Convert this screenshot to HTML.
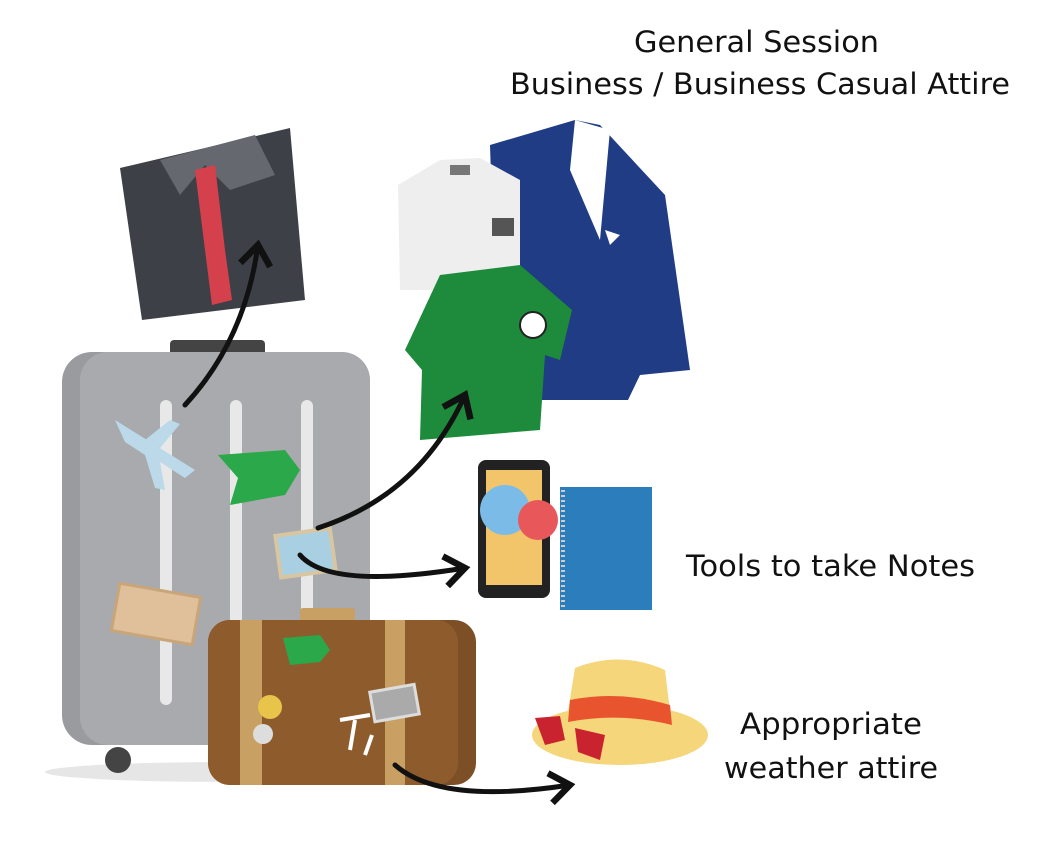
<!DOCTYPE html>
<html><head><meta charset="utf-8"><style>
html,body{margin:0;padding:0;background:#fff}
svg{display:block}
text{font-family:"DejaVu Sans","Liberation Sans",sans-serif;fill:#111}
</style></head><body>
<svg width="1042" height="841" viewBox="0 0 1042 841" xmlns="http://www.w3.org/2000/svg">
<defs><marker id="ah" markerWidth="8" markerHeight="8" refX="5" refY="4" orient="auto" markerUnits="strokeWidth"><path d="M1,1 L5,4 L1,7" fill="none" stroke="#111" stroke-width="1.3"/></marker></defs>
<text x="634" y="52" font-size="29" textLength="245" lengthAdjust="spacingAndGlyphs">General Session</text>
<text x="510" y="94" font-size="29" textLength="500" lengthAdjust="spacingAndGlyphs">Business / Business Casual Attire</text>
<text x="686" y="576" font-size="29" textLength="289" lengthAdjust="spacingAndGlyphs">Tools to take Notes</text>
<text x="740" y="734" font-size="29" textLength="182" lengthAdjust="spacingAndGlyphs">Appropriate</text>
<text x="724" y="778" font-size="29" textLength="214" lengthAdjust="spacingAndGlyphs">weather attire</text>

<ellipse cx="230" cy="772" rx="185" ry="10" fill="#e6e6e6"/>
<rect x="170" y="340" width="95" height="18" rx="4" fill="#444"/>
<rect x="62" y="352" width="308" height="393" rx="30" fill="#9a9b9e"/>
<rect x="80" y="352" width="290" height="393" rx="28" fill="#a9aaad"/>
<rect x="160" y="400" width="12" height="305" rx="6" fill="#e8e8e8"/>
<rect x="230" y="400" width="12" height="305" rx="6" fill="#e8e8e8"/>
<rect x="301" y="400" width="12" height="305" rx="6" fill="#e8e8e8"/>
<circle cx="118" cy="760" r="13" fill="#444"/>
<path d="M115 420 L195 470 L185 478 L160 462 L165 490 L155 488 L145 455 L125 442 Z" fill="#bcd9ea"/>
<path d="M145 440 L170 420 L180 424 L160 448 Z" fill="#bcd9ea"/>
<path d="M218 455 L285 450 L300 470 L285 495 L230 505 L238 478 Z" fill="#2aa84a"/>
<rect x="278" y="532" width="55" height="42" fill="#a9cfe2" stroke="#d8c6a2" stroke-width="4" transform="rotate(-8 305 553)"/>
<rect x="115" y="590" width="82" height="48" fill="#dfc09a" stroke="#c9a57a" stroke-width="3" transform="rotate(10 156 614)"/>

<path d="M120 168 L290 128 L305 300 L142 320 Z" fill="#3e4048"/>
<path d="M160 160 L255 135 L275 175 L230 190 L205 165 L180 195 Z" fill="#666870"/>
<path d="M195 170 L215 165 L225 250 L232 300 L212 305 L205 250 Z" fill="#d4404b"/>

<path d="M490 145 L575 120 L600 125 L665 195 L690 370 L640 375 L628 400 L535 400 L495 300 Z" fill="#1f3c84"/>
<path d="M575 120 L610 130 L600 240 L570 170 Z" fill="#fff"/>
<path d="M605 230 L620 235 L610 245 Z" fill="#fff"/>
<path d="M398 185 L440 160 L480 158 L520 180 L520 290 L400 290 Z" fill="#eeeeef"/>
<rect x="450" y="165" width="20" height="10" fill="#777"/>
<rect x="492" y="218" width="22" height="18" fill="#555"/>
<path d="M440 275 L520 265 L572 310 L560 360 L545 355 L540 430 L420 440 L422 370 L405 350 Z" fill="#1e8a3b"/>
<circle cx="533" cy="325" r="13" fill="#fff" stroke="#222" stroke-width="2"/>

<rect x="478" y="460" width="72" height="138" rx="8" fill="#222"/>
<rect x="486" y="470" width="56" height="115" fill="#f2c56a"/>
<circle cx="505" cy="510" r="25" fill="#7bbbe8"/>
<circle cx="538" cy="520" r="20" fill="#e8585a"/>
<rect x="560" y="487" width="92" height="123" fill="#2b7dbc"/>
<line x1="563" y1="490" x2="563" y2="608" stroke="#ccc" stroke-width="4" stroke-dasharray="2 3"/>

<rect x="300" y="608" width="55" height="18" rx="3" fill="#c9a064"/>
<rect x="208" y="620" width="268" height="165" rx="22" fill="#7c4f26"/>
<rect x="208" y="620" width="250" height="165" rx="22" fill="#8e5c2c"/>
<rect x="240" y="620" width="22" height="165" fill="#c9a064"/>
<rect x="385" y="620" width="20" height="165" fill="#c9a064"/>
<path d="M283 638 L320 635 L330 650 L320 662 L290 665 Z" fill="#2aa84a"/>
<circle cx="270" cy="707" r="12" fill="#e8c44a"/>
<circle cx="263" cy="734" r="10" fill="#ddd"/>
<rect x="372" y="688" width="45" height="30" fill="#aaa" stroke="#ddd" stroke-width="3" transform="rotate(-10 395 703)"/>
<path d="M350 750 L355 720 M340 720 L370 715 M365 755 L372 735" stroke="#fff" stroke-width="4"/>

<ellipse cx="620" cy="735" rx="88" ry="30" fill="#f5d67a"/>
<path d="M565 730 L575 668 Q620 650 665 670 L672 728 Z" fill="#f5d67a"/>
<path d="M570 700 Q620 690 670 705 L672 725 Q620 712 568 722 Z" fill="#e8542e"/>
<path d="M535 718 L560 716 L565 740 L545 745 Z M575 728 L605 735 L600 760 L578 752 Z" fill="#c8232f"/>

<g fill="none" stroke="#111" stroke-width="5" stroke-linecap="round" marker-end="url(#ah)">
<path d="M185 405 Q245 340 258 245"/>
<path d="M318 528 Q420 495 465 395"/>
<path d="M300 555 Q330 590 465 568"/>
<path d="M395 765 Q440 805 570 785"/>
</g>
</svg>
</body></html>
